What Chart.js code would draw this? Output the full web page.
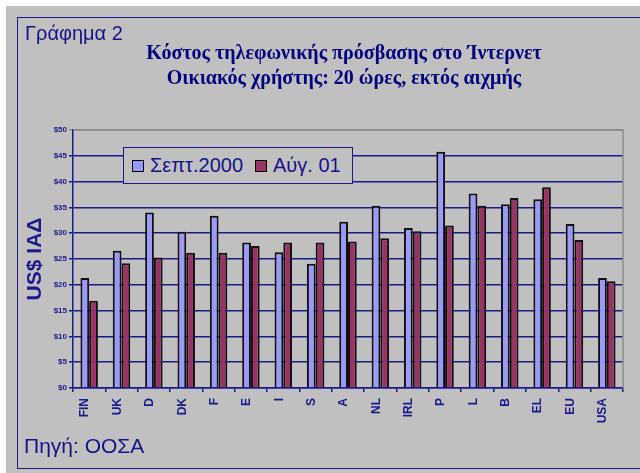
<!DOCTYPE html>
<html>
<head>
<meta charset="utf-8">
<script src="https://cdn.jsdelivr.net/npm/chart.js@4/dist/chart.umd.min.js"></script>
<style>
  html, body { margin: 0; padding: 0; background: #fff; }
  #page { position: relative; width: 640px; height: 473px; overflow: hidden; background: #fff; }
  #panel { position: absolute; left: 6px; top: 6px; width: 640px; height: 473px; background: #c0c0c0; }
  #frame { position: absolute; left: 17px; top: 17px; width: 640px; height: 450px; border: 1.5px solid #1a1a8c; }
  #chart { position: absolute; left: 0; top: 0; }
  .txt { position: absolute; color: #14148a; font-family: "Liberation Sans", Arial, sans-serif; white-space: nowrap; }
  #fig { left: 25px; top: 22px; font-size: 20px; }
  #source { left: 24px; top: 434px; font-size: 21px; }
  #title { left: 0; width: 688px; top: 40px; text-align: center; font-family: "Liberation Serif", "Times New Roman", serif;
           font-weight: bold; font-size: 20px; line-height: 25px; color: #000080; }
  #legend { position: absolute; left: 123px; top: 147px; width: 228px; height: 35px; border: 1px solid #1a1a8c;
            background: #c0c0c0; display: flex; align-items: center; font-family: "Liberation Sans", Arial, sans-serif;
            font-size: 20px; color: #14148a; }
  .sw { display: inline-block; width: 10px; height: 10px; border: 1px solid #000; margin-left: 8px; margin-right: 6px; }
</style>
</head>
<body>
<div id="page">
  <div id="panel"></div>
  <div id="frame"></div>
  <canvas id="chart" width="640" height="473"></canvas>
  <div class="txt" id="fig">Γράφημα 2</div>
  <div class="txt" id="title">Κόστος τηλεφωνικής πρόσβασης στο Ίντερνετ<br>Οικιακός χρήστης: 20 ώρες, εκτός αιχμής</div>
  <div id="legend"></div>
  <div class="txt" id="source">Πηγή: ΟΟΣΑ</div>
</div>
<script>
const countries = ["FIN", "UK", "D", "DK", "F", "E", "I", "S", "A", "NL", "IRL", "P", "L", "B", "EL", "EU", "USA"];
const seriesNames = ["Σεπτ.2000", "Αύγ. 01"];
const sept2000 = [21.3, 26.6, 34.0, 30.3, 33.4, 28.2, 26.3, 24.1, 32.2, 35.3, 31.0, 45.8, 37.7, 35.6, 36.6, 31.8, 21.3];
const aug01 = [16.9, 24.2, 25.3, 26.2, 26.2, 27.5, 28.2, 28.2, 28.4, 29.0, 30.4, 31.5, 35.3, 36.8, 38.9, 28.7, 20.7];
const yTicks = [0, 5, 10, 15, 20, 25, 30, 35, 40, 45, 50];

const navy = "#1a1a8c";
const colors = ["#9999ff", "#993366"];

// legend box sits inside the plot, like the original
const legend = document.getElementById("legend");
seriesNames.forEach((name, i) => {
  const sw = document.createElement("span");
  sw.className = "sw";
  sw.style.background = colors[i];
  if (i > 0) sw.style.marginLeft = "12px";
  legend.appendChild(sw);
  legend.appendChild(document.createTextNode(name));
});

// gray border on top/right of the plot area
const plotBorder = {
  id: "plotBorder",
  beforeDatasetsDraw(chart) {
    const { ctx, chartArea: a } = chart;
    ctx.save();
    ctx.strokeStyle = "#8a8a8a";
    ctx.lineWidth = 1.5;
    ctx.beginPath();
    ctx.moveTo(a.left, a.top);
    ctx.lineTo(a.right, a.top);
    ctx.lineTo(a.right, a.bottom);
    ctx.stroke();
    ctx.restore();
  },
};

new Chart(document.getElementById("chart"), {
  type: "bar",
  data: {
    labels: countries,
    datasets: [
      { label: seriesNames[0], data: sept2000, backgroundColor: colors[0] },
      { label: seriesNames[1], data: aug01, backgroundColor: colors[1] },
    ],
  },
  options: {
    responsive: false,
    animation: false,
    layout: { padding: { top: 130, right: 17, left: 0, bottom: 0 } },
    datasets: {
      bar: {
        borderColor: "#111",
        borderWidth: 2,
        categoryPercentage: 0.54,
        barPercentage: 1,
      },
    },
    plugins: {
      legend: { display: false },
      tooltip: { enabled: false },
    },
    scales: {
      x: {
        afterFit: (s) => { s.height = 85; },
        grid: { offset: true, drawOnChartArea: false, drawTicks: true, tickLength: 4, color: navy, lineWidth: 1.5 },
        border: { color: navy, width: 1.5 },
        ticks: {
          minRotation: 90,
          maxRotation: 90,
          autoSkip: false,
          padding: 6,
          labelOffset: -4,
          color: navy,
          font: { family: "Liberation Sans, Arial, sans-serif", size: 12, weight: "bold" },
        },
      },
      y: {
        min: 0,
        max: 50,
        afterFit: (s) => { s.width = 73; },
        afterBuildTicks: (s) => { s.ticks = yTicks.map((v) => ({ value: v })); },
        grid: {
          color: (c) => (c.tick && c.tick.value === 50 ? "#8a8a8a" : navy),
          lineWidth: 1.5,
          tickLength: 4,
        },
        border: { color: navy, width: 1.5 },
        ticks: {
          padding: 2,
          color: navy,
          font: { family: "Liberation Sans, Arial, sans-serif", size: 8, weight: "bold" },
          callback: (v) => "$" + v,
        },
        title: {
          display: true,
          text: "US$ ΙΑΔ",
          color: navy,
          padding: { top: 23, bottom: 0 },
          font: { family: "Liberation Sans, Arial, sans-serif", size: 21, weight: "bold" },
        },
      },
    },
  },
  plugins: [plotBorder],
});
</script>
</body>
</html>
